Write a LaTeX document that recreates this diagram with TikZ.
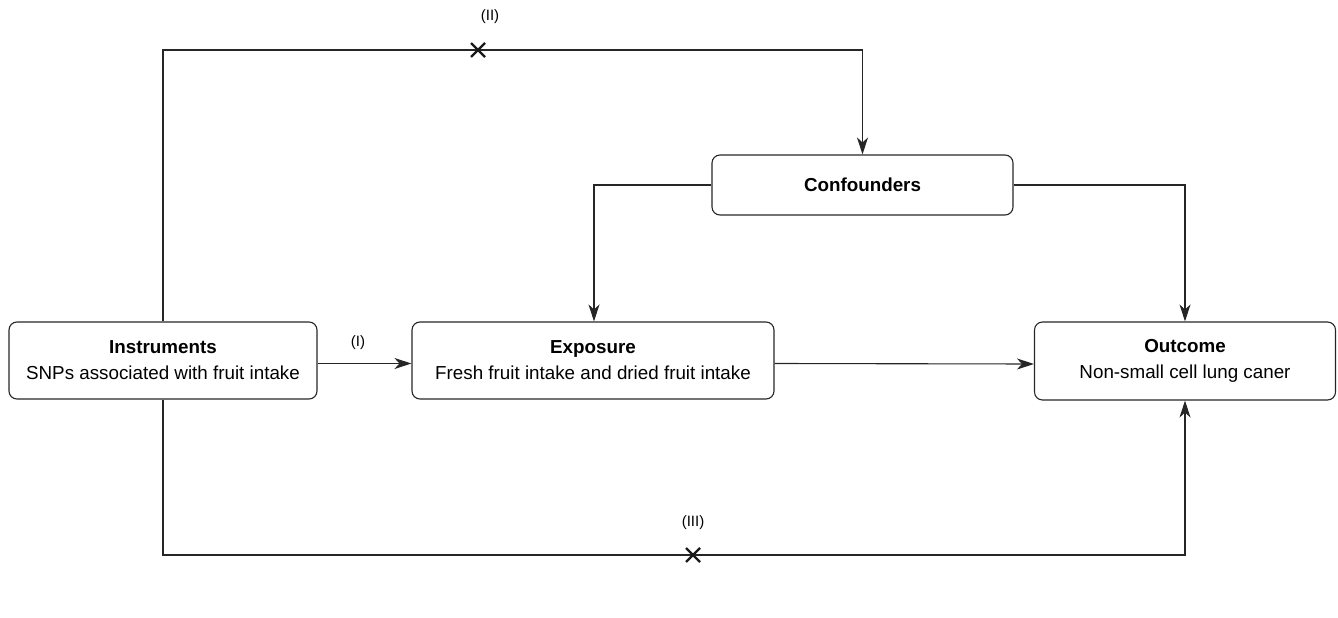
\documentclass[tikz,border=0pt]{standalone}
\usepackage{fontspec}
\setmainfont{Liberation Sans}
\usetikzlibrary{arrows.meta,calc}
\begin{document}
\begin{tikzpicture}[x=1pt,y=-1pt,
  box/.style={draw=black!85,line width=1.1pt,rounded corners=8pt,align=center,inner sep=0pt,
    font=\fontsize{18.8}{26}\selectfont},
  conn/.style={draw=black!85,line width=1.1pt},
  arr/.style={conn,-{Stealth[length=17pt,width=11pt,inset=5pt]}},
  lbl/.style={font=\fontsize{15}{18}\selectfont,inner sep=0pt},
  xmark/.style={line width=2.2pt,black!90}]
\useasboundingbox (0,0) rectangle (1338,618);
\node[box,minimum width=308pt,minimum height=77pt] (ins) at (163,360.5) {\textbf{Instruments}\\SNPs associated with fruit intake};
\node[box,minimum width=362pt,minimum height=77pt] (exp) at (593,360.5) {\textbf{Exposure}\\Fresh fruit intake and dried fruit intake};
\node[box,minimum width=301pt,minimum height=78pt] (out) at (1185,361) {\textbf{Outcome}\\Non-small cell lung caner};
\node[box,minimum width=301pt,minimum height=60pt] (conf) at (862.5,185) {\textbf{Confounders}};
\coordinate (tl) at (163,50);
\coordinate (tr) at (862.5,50);
\coordinate (bl) at (163,555);
\coordinate (br) at (1185,555);
\draw[arr] (ins.north) -- (tl) -- (tr) -- (conf.north);
\draw[arr] (ins.south) -- (bl) -- (br) -- (out.south);
\draw[arr] (conf.west) -| ($(exp.north)+(1,0)$);
\draw[arr] (conf.east) -| (out.north);
\draw[arr] ([yshift=-3pt]ins.east) -- ([yshift=-3pt]exp.west);
\draw[arr] ([yshift=-3pt]exp.east) -- ([yshift=-3pt]out.west);
\node[lbl] (l1) at (358,343) {(I)};
\node[lbl] (l2) at (490,17) {(II)};
\node[lbl] (l3) at (693,523) {(III)};
\coordinate (x1) at (478,50);
\coordinate (x2) at (693,555);
\draw[xmark] ($(x1)+(-7,-7)$) -- ($(x1)+(7,7)$) ($(x1)+(-7,7)$) -- ($(x1)+(7,-7)$);
\draw[xmark] ($(x2)+(-7,-7)$) -- ($(x2)+(7,7)$) ($(x2)+(-7,7)$) -- ($(x2)+(7,-7)$);
\end{tikzpicture}
\end{document}
